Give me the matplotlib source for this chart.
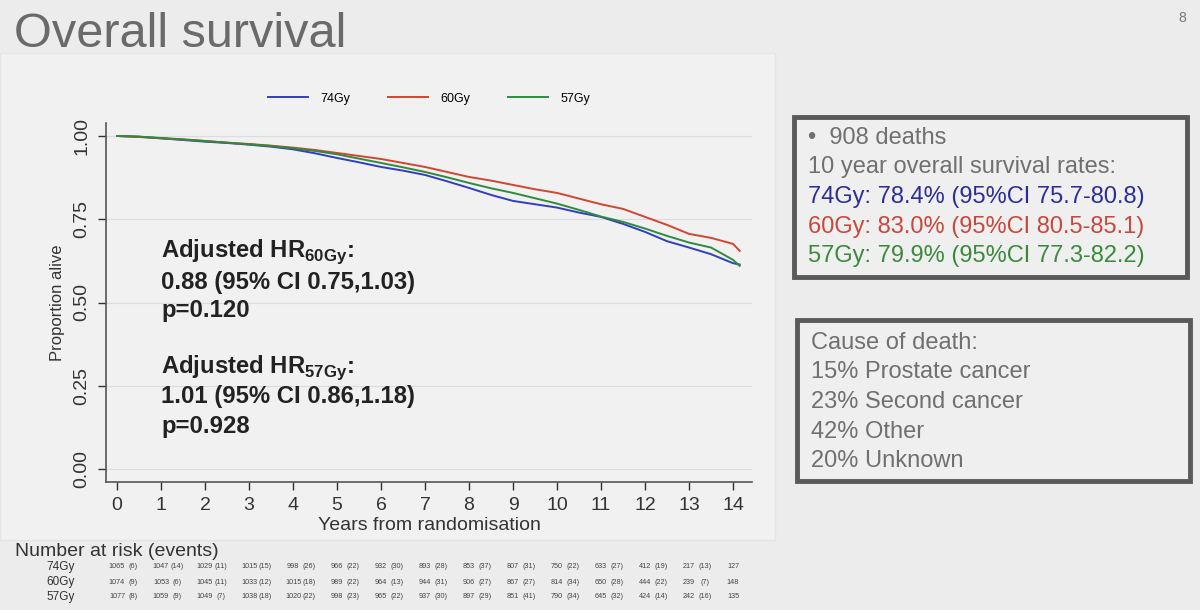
import numpy as np
import matplotlib
matplotlib.use("Agg")
import matplotlib.pyplot as plt
from matplotlib.patches import Rectangle

plt.rcParams['font.family'] = ['Liberation Sans', 'DejaVu Sans']
plt.rcParams['mathtext.fontset'] = 'custom'
plt.rcParams['mathtext.rm'] = 'Liberation Sans'
plt.rcParams['mathtext.bf'] = 'Liberation Sans:bold'

# survival estimates (every half year)
years = [0, 0.5, 1, 1.5, 2, 2.5, 3, 3.5, 4, 4.5, 5, 5.5, 6, 6.5, 7, 7.5, 8,
         8.5, 9, 9.5, 10, 10.5, 11, 11.5, 12, 12.5, 13, 13.5, 14, 14.15]
surv_74 = [1.000, 0.998, 0.993, 0.988, 0.983, 0.979, 0.974, 0.968, 0.960, 0.948,
           0.934, 0.921, 0.907, 0.896, 0.883, 0.864, 0.844, 0.823, 0.805, 0.795,
           0.785, 0.770, 0.757, 0.736, 0.712, 0.684, 0.665, 0.645, 0.618, 0.614]
surv_60 = [1.000, 0.997, 0.993, 0.989, 0.985, 0.980, 0.976, 0.971, 0.965, 0.958,
           0.949, 0.940, 0.931, 0.919, 0.907, 0.892, 0.877, 0.866, 0.853, 0.840,
           0.829, 0.812, 0.795, 0.781, 0.757, 0.733, 0.706, 0.694, 0.676, 0.655]
surv_57 = [1.000, 0.998, 0.994, 0.990, 0.985, 0.980, 0.975, 0.970, 0.963, 0.955,
           0.945, 0.932, 0.919, 0.906, 0.892, 0.876, 0.859, 0.843, 0.829, 0.813,
           0.797, 0.778, 0.758, 0.742, 0.722, 0.700, 0.680, 0.665, 0.628, 0.610]

arms = ['74Gy', '60Gy', '57Gy']
arm_colors = ['#2f3fbf', '#d2452f', '#2e8b3e']

# number at risk and events
risk_74 = [1065, 1047, 1029, 1015, 998, 966, 932, 893, 853, 807, 750, 633, 412, 217, 127]
ev_74 = [6, 14, 11, 15, 26, 22, 30, 28, 37, 31, 22, 27, 19, 13]
risk_60 = [1074, 1053, 1045, 1033, 1015, 989, 964, 944, 906, 867, 814, 650, 444, 239, 148]
ev_60 = [9, 6, 11, 12, 18, 22, 13, 31, 27, 27, 34, 28, 22, 7]
risk_57 = [1077, 1059, 1049, 1038, 1020, 998, 965, 937, 897, 851, 790, 645, 424, 242, 135]
ev_57 = [8, 9, 7, 18, 22, 23, 22, 30, 29, 41, 34, 32, 14, 16]

box1_lines = ['•  908 deaths', '10 year overall survival rates:',
              '74Gy: 78.4% (95%CI 75.7-80.8)',
              '60Gy: 83.0% (95%CI 80.5-85.1)',
              '57Gy: 79.9% (95%CI 77.3-82.2)']
box1_colors = ['#707070', '#707070', '#2b2f95', '#c8483c', '#3a8a3c']
box2_lines = ['Cause of death:', '15% Prostate cancer', '23% Second cancer',
              '42% Other', '20% Unknown']

W, H = 1200, 610
fig = plt.figure(figsize=(12, 6.1), dpi=100, facecolor='#ececec')

def fx(px):
    return px / W

def fy(py):
    return 1 - py / H

# light panel behind the graph
fig.patches.append(Rectangle((fx(0), fy(540)), fx(775), fy(53) - fy(540),
                             transform=fig.transFigure, facecolor='#f1f1f1',
                             edgecolor='#e4e4e4', lw=1, zorder=-5))

fig.text(fx(14), fy(47), 'Overall survival', fontsize=35, color='#6a6a6a')
fig.text(fx(1186), fy(22), '8', fontsize=10, color='#777777', ha='right')

ax = fig.add_axes([fx(106), fy(482), fx(752) - fx(106), fy(123) - fy(482)])
ax.set_zorder(2)
ax.set_facecolor('none')
for name, s, c in zip(arms, [surv_74, surv_60, surv_57], arm_colors):
    ax.plot(years, s, color=c, lw=1.4, label=name)

ax.set_xlim(-0.25, 14.43)
ax.set_ylim(-0.039, 1.039)
ax.set_xticks(range(15))
ax.set_yticks([0, 0.25, 0.5, 0.75, 1.0])
ax.set_yticklabels(['0.00', '0.25', '0.50', '0.75', '1.00'], rotation=90, va='center')
ax.tick_params(axis='both', labelsize=14, colors='#333333', length=6, width=1)
ax.tick_params(axis='x', pad=5)
ax.tick_params(axis='y', pad=5)
ax.grid(axis='y', color='#dcdcdc', lw=0.8)
ax.set_axisbelow(True)
for sp in ['top', 'right']:
    ax.spines[sp].set_visible(False)
for sp in ['left', 'bottom']:
    ax.spines[sp].set_color('#555555')
    ax.spines[sp].set_linewidth(1.2)
ax.set_xlabel('Years from randomisation', fontsize=14, color='#333333', labelpad=2)
ax.set_ylabel('Proportion alive', fontsize=12, color='#333333', labelpad=6)

leg = ax.legend(loc='lower center', bbox_to_anchor=(0.5, 1.02), ncol=3, frameon=False,
                fontsize=9, handlelength=3.2, columnspacing=3, handletextpad=1.0)

hr_text = [
    ('Adjusted HR$_{\\mathbf{60Gy}}$:', 252),
    ('0.88 (95% CI 0.75,1.03)', 282),
    ('p=0.120', 311),
    ('Adjusted HR$_{\\mathbf{57Gy}}$:', 368),
    ('1.01 (95% CI 0.86,1.18)', 397),
    ('p=0.928', 426),
]
for t, py in hr_text:
    fig.text(fx(161), fy(py), t, fontsize=17.2, fontweight='bold', color='#222222',
             va='center', zorder=3)

# risk table
fig.text(fx(15), fy(551), 'Number at risk (events)', fontsize=14, color='#333333',
         va='center')
row_y = [567, 582, 597]
for arm, risk, ev, py in zip(arms, [risk_74, risk_60, risk_57],
                             [ev_74, ev_60, ev_57], row_y):
    fig.text(fx(75), fy(py), arm, fontsize=8.5, color='#333333', ha='right', va='center')
    for i, n in enumerate(risk):
        px = ax.transData.transform((i, 0))[0]
        fig.text(px / W, fy(py), str(n), fontsize=5.2, color='#444444',
                 ha='center', va='center')
    for i, e in enumerate(ev):
        px = ax.transData.transform((i + 0.37, 0))[0]
        fig.text(px / W, fy(py), '(%d)' % e, fontsize=5.2, color='#444444',
                 ha='center', va='center')

# right boxes
def draw_box(x0, y0, x1, y1, lines, colors, ytop):
    fig.patches.append(Rectangle((fx(x0), fy(y1)), fx(x1 - x0), fy(y0) - fy(y1),
                                 transform=fig.transFigure, facecolor='#efefef',
                                 edgecolor='#5a5a5a', lw=3.5, zorder=1))
    for k, (t, c) in enumerate(zip(lines, colors)):
        fig.text(fx(x0 + 14), fy(ytop + 29.5 * k), t, fontsize=17, color=c,
                 va='center', zorder=2)

draw_box(794, 117, 1187, 277, box1_lines, box1_colors, 138)
draw_box(797, 320, 1190, 481, box2_lines, ['#707070'] * 5, 343)

fig.savefig('out.png', dpi=100, facecolor=fig.get_facecolor())
